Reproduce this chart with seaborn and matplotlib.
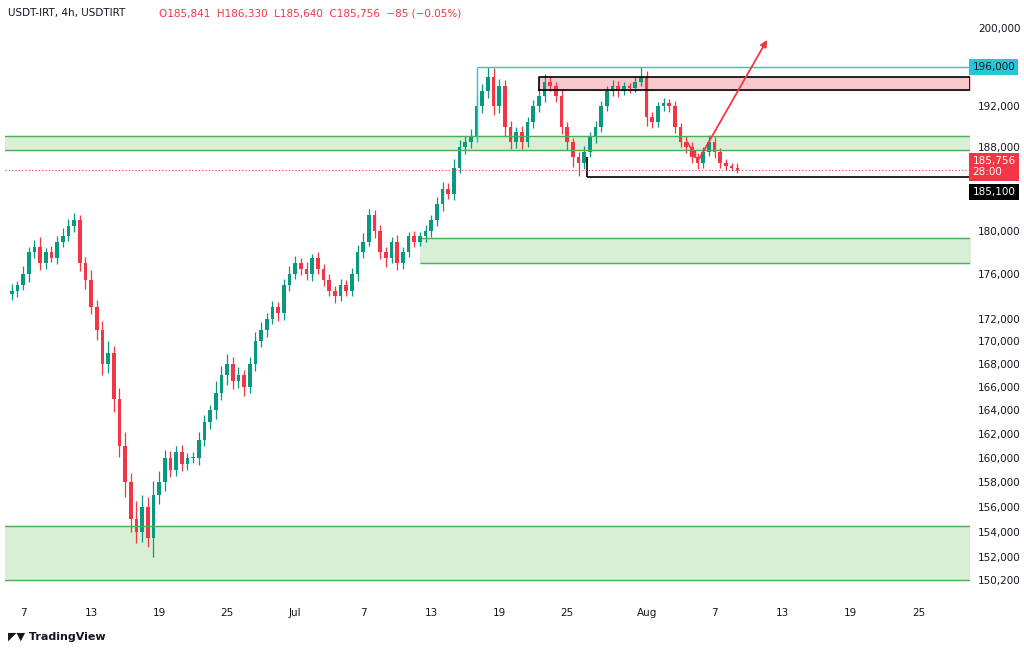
import numpy as np
import pandas as pd
import matplotlib.pyplot as plt
import matplotlib.dates as mdates
import seaborn as sns

# 12h candles from 2025-06-06, prices in thousand IRT
closes = [174.5, 175, 176, 178, 178.5, 177, 178, 177.5, 179, 179.5, 180.5, 181,
          177, 175.5, 173, 171, 168, 169, 165, 161, 158, 155, 154, 156,
          153.5, 157, 158, 160, 159, 160.5, 159.5, 160, 160, 161.5, 163, 164,
          165.5, 167, 168, 166.5, 167, 166, 168, 170, 171, 172, 173, 172.5,
          175, 176, 177, 176.5, 176, 177.5, 176.5, 175.5, 174.5, 174, 175, 174.5,
          176, 178, 179, 181.5, 180, 178, 177.5, 179, 177, 178, 179.5, 179,
          179.5, 180, 181, 182.5, 184, 183.5, 186, 188, 188.5, 189, 192, 193.5,
          195, 192, 194, 190, 188.5, 189.5, 188.5, 190.5, 192, 193, 194.5, 194,
          193, 190, 188.5, 187, 186.5, 187.5, 189, 190, 192, 193.5, 194, 193.5,
          194, 193.8, 194.5, 195, 191, 190.5, 192, 192.3, 192, 190, 188.5, 188,
          187, 186.5, 187.5, 188.5, 187.5, 186.5, 186.2, 186, 185.756]
wick_up = [0.6, 0.4, 0.8, 0.5, 0.7, 0.9, 0.4, 0.6, 0.5, 0.8, 0.6, 0.7,
           0.5, 0.6, 0.9, 0.7, 0.8, 1.0, 0.6, 0.9, 1.2, 0.8, 1.5, 1.0,
           0.8, 1.1, 0.9, 0.7, 0.6, 0.5, 0.6, 0.4, 0.5, 0.7, 0.6, 0.5,
           1.0, 0.8, 0.9, 0.6, 0.7, 0.5, 0.6, 0.8, 0.7, 0.5, 0.6, 0.5,
           0.6, 0.8, 0.7, 0.5, 0.6, 0.4, 0.5, 0.4, 0.5, 0.4, 0.6, 0.5,
           0.6, 0.7, 0.8, 0.6, 0.5, 0.6, 0.5, 0.4, 0.6, 0.5, 0.4, 0.5,
           0.4, 0.6, 0.5, 0.7, 0.6, 0.5, 0.8, 0.7, 0.6, 0.8, 0.9, 0.8,
           1.0, 0.9, 0.8, 0.7, 0.6, 0.5, 0.6, 0.5, 0.6, 0.7, 0.8, 0.6,
           0.5, 0.6, 0.5, 0.4, 0.5, 0.6, 0.5, 0.6, 0.5, 0.6, 0.7, 0.6,
           0.5, 0.4, 0.5, 1.0, 0.6, 0.5, 0.4, 0.5, 0.4, 0.5, 0.4, 0.6,
           0.5, 0.4, 0.5, 0.7, 0.5, 0.4, 0.3, 0.3, 0.5]
wick_dn = [0.5, 0.6, 0.4, 0.7, 0.5, 0.6, 0.5, 0.4, 0.6, 0.5, 0.4, 0.6,
           0.7, 0.8, 0.6, 0.9, 1.0, 0.8, 1.1, 0.9, 1.2, 1.0, 0.9, 0.8,
           0.7, 1.5, 0.8, 0.7, 0.6, 0.5, 0.6, 0.5, 0.4, 0.6, 0.5, 0.6,
           0.7, 0.6, 0.8, 0.7, 0.6, 0.8, 0.5, 0.6, 0.5, 0.6, 0.5, 0.7,
           0.6, 0.5, 0.4, 0.6, 0.5, 0.6, 0.5, 0.6, 0.5, 0.6, 0.4, 0.5,
           0.5, 0.6, 0.5, 0.4, 0.7, 0.6, 0.8, 0.5, 0.6, 0.5, 0.4, 0.5,
           0.4, 0.5, 0.6, 0.5, 0.6, 0.5, 0.6, 0.5, 0.7, 0.6, 0.5, 0.6,
           0.7, 0.8, 0.6, 0.9, 0.7, 0.6, 0.7, 0.5, 0.6, 0.5, 0.6, 0.5,
           0.6, 0.7, 0.8, 0.9, 1.3, 0.6, 0.5, 0.6, 0.5, 0.4, 0.5, 0.6,
           0.4, 0.5, 0.4, 0.5, 0.9, 0.6, 0.5, 0.4, 0.5, 0.6, 0.5, 0.6,
           0.5, 0.6, 0.5, 0.4, 0.6, 0.5, 0.4, 0.3, 0.3]
first_open = 174.2

y_ticks = [150200, 152000, 154000, 156000, 158000, 160000, 162000, 164000, 166000,
           168000, 170000, 172000, 176000, 180000, 188000, 192000, 200000]
x_tick_dates = ["2025-06-07", "2025-06-13", "2025-06-19", "2025-06-25", "2025-07-01",
                "2025-07-07", "2025-07-13", "2025-07-19", "2025-07-25", "2025-08-01",
                "2025-08-07", "2025-08-13", "2025-08-19", "2025-08-25"]
x_tick_labels = ["7", "13", "19", "25", "Jul", "7", "13", "19", "25", "Aug", "7", "13", "19", "25"]

dates = pd.date_range("2025-06-06", periods=len(closes), freq="12h")
c = np.array(closes) * 1000
o = np.concatenate([[first_open * 1000], c[:-1]])
h = np.maximum(o, c) + np.array(wick_up) * 1000
l = np.minimum(o, c) - np.array(wick_dn) * 1000
df = pd.DataFrame({"date": dates, "open": o, "high": h, "low": l, "close": c})

sns.set_style("white")
fig = plt.figure(figsize=(10.24, 6.5), dpi=100)
ax = fig.add_axes([0.005, 0.077, 0.942, 0.923])

up_col, dn_col = "#089981", "#f23645"
cols = np.where(df.close >= df.open, up_col, dn_col)
x = mdates.date2num(df.date)
ax.vlines(x, df.low, df.high, colors=cols, linewidth=0.9)
body = np.maximum(np.abs(df.close - df.open), 120)
ax.bar(x, body, bottom=np.minimum(df.open, df.close), width=0.32, color=cols, linewidth=0)

ax.set_yscale("log")
ax.set_ylim(148650, 202900)
x0 = mdates.date2num(pd.Timestamp("2025-06-05 10:00"))
x1 = mdates.date2num(pd.Timestamp("2025-08-29 12:00"))
ax.set_xlim(x0, x1)

def d(s):
    return mdates.date2num(pd.Timestamp(s))

# zones
ax.axhspan(187700, 189100, color="#d6efd5", zorder=0)
for yv in (187700, 189100):
    ax.axhline(yv, color="#4caf50", lw=1)
ax.fill_between([d("2025-07-12"), x1], 177000, 179300, color="#d6efd5", zorder=0)
ax.hlines([177000, 179300], d("2025-07-12"), x1, color="#4caf50", lw=1)
ax.axhspan(150200, 154500, color="#d6efd5", zorder=0)
for yv in (150200, 154500):
    ax.axhline(yv, color="#4caf50", lw=1)
ax.fill_between([d("2025-07-22 12:00"), x1], 193600, 195000, color="#f8c9cc", zorder=0.5)
ax.plot([d("2025-07-22 12:00"), x1, x1, d("2025-07-22 12:00"), d("2025-07-22 12:00")],
        [193600, 193600, 195000, 195000, 193600], color="black", lw=1.2)
ax.hlines(196000, d("2025-07-17"), x1, color="#26c6da", lw=1)
ax.vlines(d("2025-07-17"), 188500, 196000, color="#26c6da", lw=1)
ax.hlines(185100, d("2025-07-26 18:00"), x1, color="black", lw=1.2)
ax.vlines(d("2025-07-26 18:00"), 185100, 187000, color="black", lw=1.2)
ax.axhline(185756, color=dn_col, lw=0.8, ls=(0, (1, 2)))

# arrows
ax.annotate("", xy=(d("2025-08-05 12:00"), 186600), xytext=(d("2025-08-04 12:00"), 188700),
            arrowprops=dict(arrowstyle="-|>", color=dn_col, lw=1.3))
ax.annotate("", xy=(d("2025-08-11 18:00"), 199000), xytext=(d("2025-08-05 12:00"), 186600),
            arrowprops=dict(arrowstyle="-|>", color=dn_col, lw=1.3))

ax.set_xticks([d(s) for s in x_tick_dates])
ax.set_xticklabels(x_tick_labels, fontsize=7.5, color="#131722")
ax.yaxis.tick_right()
ax.set_yticks(y_ticks)
ax.set_yticklabels([f"{v:,}" for v in y_ticks], fontsize=7.5, color="#131722")
ax.minorticks_off()
ax.tick_params(length=0, pad=6)
for s in ax.spines.values():
    s.set_visible(False)

def tag(y, text, fc, tc="white"):
    ax.text(1.003, y, text, transform=ax.get_yaxis_transform(), fontsize=7.5, color=tc,
            va="center", ha="left", bbox=dict(boxstyle="square,pad=0.3", fc=fc, ec="none"))

tag(196000, "196,000", "#26c6da", "#131722")
tag(186100, "185,756\n28:00", dn_col)
tag(183700, "185,100", "black")

fig.text(0.008, 0.975, "USDT-IRT, 4h, USDTIRT", fontsize=7.5, color="#131722")
fig.text(0.155, 0.975, "O185,841  H186,330  L185,640  C185,756  −85 (−0.05%)",
         fontsize=7.5, color=dn_col)
fig.text(0.008, 0.015, "◤▼ TradingView", fontsize=8, color="#131722", weight="bold")

fig.savefig("out.png", dpi=100, facecolor="white")
